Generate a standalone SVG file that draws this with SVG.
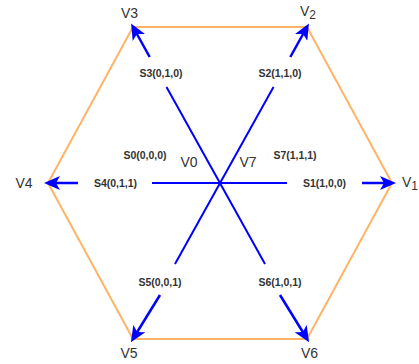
<svg xmlns="http://www.w3.org/2000/svg" width="419" height="364" viewBox="0 0 419 364">
<style>
.hex{fill:none;stroke:#FFB366;stroke-width:2;stroke-linejoin:miter}
.ax{stroke:#0000FF;stroke-width:2;fill:none}
.arr{stroke:#0000FF;stroke-width:2.5;fill:none;marker-end:url(#ah)}
.sl{font-family:"Liberation Sans",Arial,sans-serif;font-size:10.5px;font-weight:bold;fill:#333;text-anchor:middle;dominant-baseline:central}
.vl{font-family:"Liberation Sans",Arial,sans-serif;font-size:14px;fill:#333;text-anchor:middle;dominant-baseline:central}
</style>
<defs>
<marker id="ah" markerUnits="userSpaceOnUse" markerWidth="16" markerHeight="14" viewBox="0 0 16 14" refX="4" refY="7" orient="auto">
<path d="M0,0 L16,7 L0,14 L4,7 Z" fill="#0000FF"/>
</marker>
</defs>
<g id="hexagon">
<polygon class="hex" points="133,27 307,27 392,183 307,339 133,339 48,183"/>
</g>
<g id="connectors">
<line class="ax" x1="152" y1="183" x2="287" y2="183"/>
<line class="ax" x1="166.5" y1="87" x2="265" y2="264"/>
<line class="ax" x1="273.5" y1="87" x2="175" y2="264"/>
<line class="arr" x1="78" y1="183" x2="56" y2="183"/>
<line class="arr" x1="362" y1="183" x2="384" y2="183"/>
<line class="arr" x1="149.7" y1="57" x2="136.9" y2="34"/>
<line class="arr" x1="290.3" y1="57" x2="303.1" y2="34"/>
<line class="arr" x1="160" y1="295" x2="137.2" y2="332"/>
<line class="arr" x1="280" y1="295" x2="302.8" y2="332"/>
</g>
<g id="switch-labels">
<text class="sl" x="161" y="73">S3(0,1,0)</text>
<text class="sl" x="280" y="73">S2(1,1,0)</text>
<text class="sl" x="145" y="155">S0(0,0,0)</text>
<text class="sl" x="295" y="155">S7(1,1,1)</text>
<text class="sl" x="115.5" y="183">S4(0,1,1)</text>
<text class="sl" x="324.5" y="183">S1(1,0,0)</text>
<text class="sl" x="160" y="282">S5(0,0,1)</text>
<text class="sl" x="280" y="282">S6(1,0,1)</text>
</g>
<g id="vertex-labels">
<text class="vl" x="129.5" y="13">V3</text>
<text class="vl" x="308" y="11">V<tspan font-size="12" dy="4">2</tspan></text>
<text class="vl" x="24" y="183">V4</text>
<text class="vl" x="402" y="182" style="text-anchor:start">V<tspan font-size="12" dy="4">1</tspan></text>
<text class="vl" x="189" y="162">V0</text>
<text class="vl" x="248" y="162">V7</text>
<text class="vl" x="129" y="353">V5</text>
<text class="vl" x="309.5" y="353">V6</text>
</g>
</svg>
